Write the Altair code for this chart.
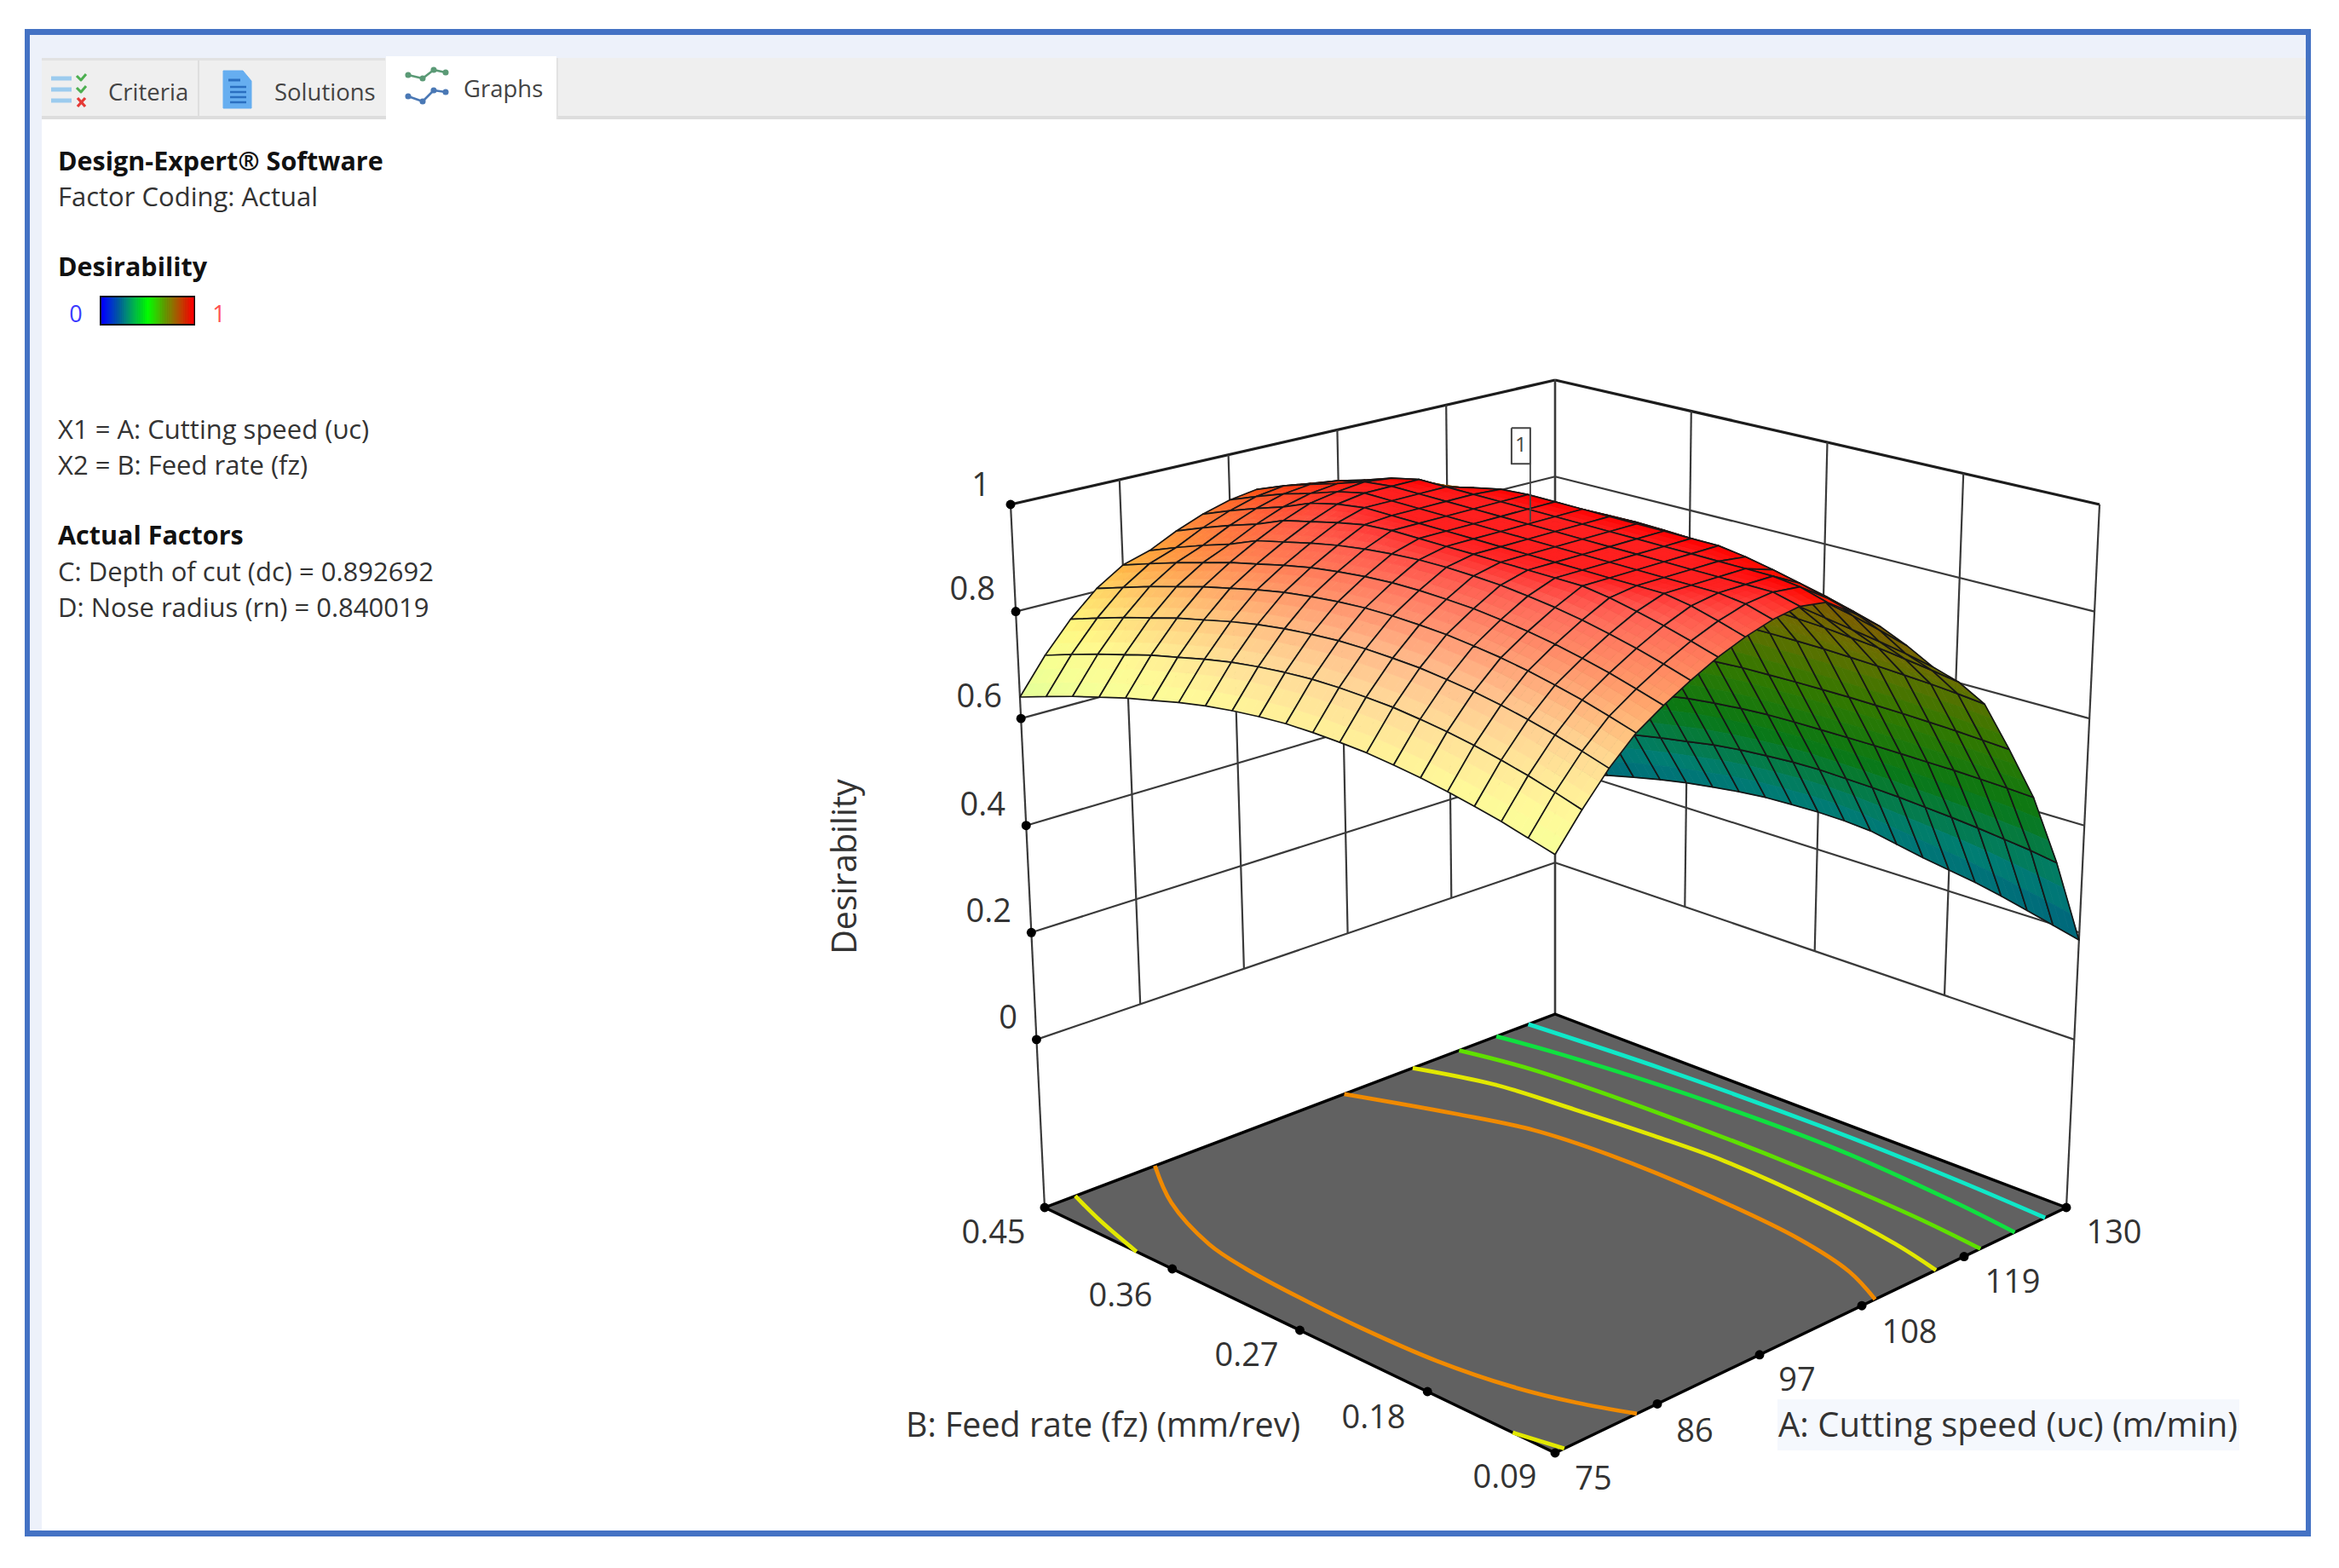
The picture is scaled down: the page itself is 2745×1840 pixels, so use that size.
import numpy as np
import pandas as pd
import altair as alt

alt.data_transformers.disable_max_rows()

# ---------- data ----------
A_VALUES = [75 + 2.75 * i for i in range(21)]
B_VALUES = [0.09 + 0.018 * j for j in range(21)]
# rows: A from 75 to 130, columns: B from 0.09 to 0.45
DESIRABILITY = [
 [.700,.712,.724,.734,.743,.751,.757,.762,.764,.765,.764,.760,.754,.746,.735,.722,.709,.693,.677,.659,.640],
 [.760,.774,.787,.798,.808,.816,.822,.827,.829,.830,.829,.825,.819,.811,.800,.787,.774,.758,.742,.724,.705],
 [.815,.829,.842,.853,.863,.871,.877,.882,.884,.885,.884,.880,.874,.866,.855,.842,.829,.813,.797,.779,.760],
 [.860,.874,.887,.898,.908,.916,.922,.927,.929,.930,.929,.925,.919,.911,.900,.887,.874,.858,.842,.824,.805],
 [.892,.906,.919,.930,.940,.948,.954,.959,.961,.962,.961,.957,.951,.943,.932,.919,.906,.890,.874,.856,.837],
 [.920,.934,.947,.958,.968,.976,.982,.987,.989,.990,.989,.985,.979,.971,.960,.947,.934,.912,.894,.874,.852],
 [.945,.959,.972,.983,.993,1,1,1,1,1,1,1,1,.996,.985,.972,.959,.937,.919,.899,.877],
 [.965,.979,.992,1,1,1,1,1,1,1,1,1,1,1,1,.992,.979,.957,.939,.919,.897],
 [.980,.994,1,1,1,1,1,1,1,1,1,1,1,1,1,1,.988,.970,.954,.934,.912],
 [.988,1,1,1,1,1,1,1,1,1,1,1,1,1,1,1,.994,.976,.960,.942,.920],
 [.980,.994,1,1,1,1,1,1,1,1,1,1,1,1,1,1,.988,.970,.954,.934,.912],
 [.945,.959,.972,.983,.993,1,1,1,1,1,1,1,1,.996,.985,.972,.959,.937,.919,.899,.877],
 [.905,.919,.932,.943,.953,.961,.967,.972,.974,.975,.974,.970,.964,.956,.945,.932,.919,.897,.879,.859,.837],
 [.855,.869,.882,.893,.903,.911,.917,.922,.924,.925,.924,.920,.914,.906,.895,.882,.869,.853,.837,.819,.800],
 [.800,.810,.819,.827,.835,.843,.849,.854,.856,.857,.856,.852,.846,.838,.827,.814,.801,.785,.769,.751,.732],
 [.755,.763,.770,.777,.782,.787,.790,.793,.794,.795,.794,.790,.785,.777,.766,.754,.742,.727,.711,.694,.676],
 [.698,.703,.707,.710,.713,.715,.717,.718,.718,.718,.717,.713,.708,.701,.691,.679,.668,.653,.639,.623,.605],
 [.597,.600,.603,.605,.607,.608,.609,.609,.609,.608,.607,.604,.599,.592,.582,.571,.560,.547,.533,.518,.502],
 [.490,.493,.495,.497,.498,.499,.500,.500,.500,.500,.499,.496,.491,.485,.476,.466,.455,.442,.430,.415,.400],
 [.350,.358,.364,.370,.375,.379,.383,.386,.388,.390,.389,.386,.382,.376,.367,.358,.348,.336,.324,.310,.296],
 [.186,.198,.210,.222,.232,.240,.248,.258,.268,.272,.273,.272,.270,.265,.258,.250,.240,.228,.215,.198,.180],
]
Z_TICKS = [0, 0.2, 0.4, 0.6, 0.8, 1]
A_TICKS = [75, 86, 97, 108, 119, 130]
B_TICKS = [0.09, 0.18, 0.27, 0.36, 0.45]
OPTIMUM = (100.3, 0.272, 1.0)

# contours on the floor: (fraction along A, fraction along B)
CONTOURS = [
 ("#f08a00", [(.216,1),(.148,.90),(.094,.772),(.078,.683),(.07,.5625),(.068,.45),(.074,.306),(.095,.178),(.1245,.0825),(.16,0)]),
 ("#f08a00", [(.587,1),(.652,.847),(.69,.733),(.705,.60),(.705,.41),(.69,.213),(.663,.087),(.626,0)]),
 ("#e2e800", [(.06,1),(.03,.92),(0,.82)]),
 ("#e2e800", [(.018,0),(0,.083)]),
 ("#e2e800", [(.721,1),(.762,.882),(.78,.741),(.793,.6),(.80,.47),(.789,.271),(.767,.102),(.745,0)]),
 ("#5fe000", [(.812,1),(.837,.881),(.852,.664),(.855,.376),(.846,.145),(.832,0)]),
 ("#10e040", [(.885,1),(.902,.9),(.925,.667),(.932,.378),(.915,.137),(.899,0)]),
 ("#10e8c8", [(.9475,1),(.965,.75),(.972,.45),(.968,.2),(.9585,0)]),
]

# ---------- view of the box (layout, not data) ----------
Z_FLOOR = -0.314
FLOOR = {(0,0):(1825,1705),(1,0):(2425,1417),(0,1):(1226,1417),(1,1):(1825,1190)}
TOP   = {(0,0):(1825,795),(1,0):(2464,592),(0,1):(1186,592),(1,1):(1825,446)}

def proj(a, b, z):
    t = (z - Z_FLOOR) / (1 - Z_FLOOR)
    def bil(C, k):
        return (C[(0,0)][k]*(1-a)*(1-b) + C[(1,0)][k]*a*(1-b) + C[(0,1)][k]*(1-a)*b + C[(1,1)][k]*a*b)
    return (bil(FLOOR,0)*(1-t)+bil(TOP,0)*t, bil(FLOOR,1)*(1-t)+bil(TOP,1)*t)

def interp_color(v, stops):
    xs = [s[0] for s in stops]
    return [np.interp(v, xs, [s[1][k] for s in stops]) for k in range(3)]

def hexc(rgb):
    return "#%02x%02x%02x" % tuple(int(round(max(0, min(255, c)))) for c in rgb)

TOP_STOPS = [(.6,(150,255,0)),(.7,(235,255,0)),(.75,(255,240,0)),(.8,(255,190,0)),(.9,(255,90,0)),(1,(255,0,0))]
UNDER_STOPS = [(.15,(0,90,130)),(.3,(0,125,115)),(.45,(10,120,20)),(.6,(50,120,0)),(.75,(105,110,0)),(.9,(125,90,0)),(1,(130,70,0))]

Z = np.array(DESIRABILITY, float)
aN = np.array(A_VALUES); aN = (aN - aN[0]) / (aN[-1] - aN[0])
bN = np.array(B_VALUES); bN = (bN - bN[0]) / (bN[-1] - bN[0])
ZA, ZB = np.gradient(Z, aN, bN)
LIT = np.clip(0.12 + 0.42*ZA + 0.15*ZB, 0, 0.6)

SUB = 3
rows = []
pid = 0
def add_poly(pts, fill, stroke, width):
    global pid
    for k, (x, y) in enumerate(pts + [pts[0]]):
        rows.append({"i": pid, "k": k, "x": round(x,1), "y": round(y,1), "f": fill, "s": stroke, "w": width})
    pid += 1

n, m = Z.shape
quads = sorted([(i, j) for i in range(n-1) for j in range(m-1)], key=lambda q: -(q[0]+q[1]))
for i, j in quads:
    a0, a1, b0, b1 = aN[i], aN[i+1], bN[j], bN[j+1]
    z00, z10, z01, z11 = Z[i,j], Z[i+1,j], Z[i,j+1], Z[i+1,j+1]
    l00, l10, l01, l11 = LIT[i,j], LIT[i+1,j], LIT[i,j+1], LIT[i+1,j+1]
    corners = [proj(a0,b0,z00), proj(a1,b0,z10), proj(a1,b1,z11), proj(a0,b1,z01)]
    area = 0.0
    for p in range(4):
        x1, y1 = corners[p]; x2, y2 = corners[(p+1)%4]
        area += x1*y2 - x2*y1
    under = area > 0
    for u in range(SUB):
        for v in range(SUB):
            pts = []
            for (uu, vv) in [(u,v),(u+1,v),(u+1,v+1),(u,v+1)]:
                s, t = uu/SUB, vv/SUB
                zz = z00*(1-s)*(1-t)+z10*s*(1-t)+z01*(1-s)*t+z11*s*t
                pts.append(proj(a0+(a1-a0)*s, b0+(b1-b0)*t, zz))
            s, t = (u+.5)/SUB, (v+.5)/SUB
            zz = z00*(1-s)*(1-t)+z10*s*(1-t)+z01*(1-s)*t+z11*s*t
            ll = l00*(1-s)*(1-t)+l10*s*(1-t)+l01*(1-s)*t+l11*s*t
            if under:
                c = hexc(interp_color(zz, UNDER_STOPS))
            else:
                base = np.array(interp_color(zz, TOP_STOPS))
                c = hexc(base + (255-base)*ll)
            add_poly(pts, c, c, 0.8)
    add_poly(corners, "transparent", "#161616", 1.7)
surface_df = pd.DataFrame(rows)

XS = alt.Scale(domain=[8, 2737], nice=False, zero=False)
YS = alt.Scale(domain=[1832, 8], nice=False, zero=False)
X = alt.X("x:Q", scale=XS, axis=None)
Y = alt.Y("y:Q", scale=YS, axis=None)

def poly_layer(df):
    return alt.Chart(df).mark_line(strokeJoin="round", clip=False).encode(
        x=X, y=Y, order="k:Q", detail="i:Q",
        fill=alt.Fill("f:N", scale=None, legend=None),
        stroke=alt.Stroke("s:N", scale=None, legend=None),
        strokeWidth=alt.StrokeWidth("w:Q", scale=None, legend=None))

def rect_layer(items):
    df = pd.DataFrame(items, columns=["x","x2","y","y2","c"])
    return alt.Chart(df).mark_rect(strokeWidth=0).encode(
        x=X, x2="x2:Q", y=Y, y2="y2:Q", fill=alt.Fill("c:N", scale=None, legend=None))

def lines_layer(segs, interpolate="linear"):
    r = []
    for idx, (pts, color, width) in enumerate(segs):
        for k, (x, y) in enumerate(pts):
            r.append({"i": idx, "k": k, "x": round(x,1), "y": round(y,1), "s": color, "w": width})
    return alt.Chart(pd.DataFrame(r)).mark_line(strokeCap="butt", strokeJoin="round", interpolate=interpolate).encode(
        x=X, y=Y, order="k:Q", detail="i:Q",
        stroke=alt.Stroke("s:N", scale=None, legend=None),
        strokeWidth=alt.StrokeWidth("w:Q", scale=None, legend=None))

FONT = "Open Sans"
DY = 4
def text_layer(items, size, color, weight="normal", align="left", angle=None):
    df = pd.DataFrame(items, columns=["t","x","y"])
    df["y"] = df["y"] + DY
    kw = {"angle": angle} if angle is not None else {}
    return alt.Chart(df).mark_text(font=FONT, fontSize=size, fontWeight=weight, color=color,
                                   align=align, baseline="middle", **kw).encode(x=X, y=Y, text="t:N")

# ---------- window chrome ----------
chrome = rect_layer([
    (35,2706,40,68,"#edf1fa"),
    (35,49,68,1796,"#edf1fa"),
    (49,2706,68,136,"#efefef"),
    (49,2706,136,140,"#dddddd"),
    (453,653,66,141,"#ffffff"),
    (232,234,70,138,"#dedede"),
    (49,452,68,71,"#e2e2e2"),
    (653,655,68,140,"#e2e2e2"),
    (29,2712,34,41,"#4472c4"),
    (29,2712,1796,1803,"#4472c4"),
    (29,35,34,1803,"#4472c4"),
    (2706,2712,34,1803,"#4472c4"),
    (2086,2628,1642,1702,"#f5f8fd"),
])

# ---------- box ----------
GRID = "#3a3a3a"
segs = []
for z in Z_TICKS:
    w = 3.2 if z == 1 else 2.2
    col = "#1c1c1c" if z == 1 else GRID
    segs.append(([proj(0,1,z), proj(1,1,z)], col, w))
    segs.append(([proj(1,1,z), proj(1,0,z)], col, w))
for v in A_TICKS[1:-1]:
    f = (v-75)/55
    segs.append(([proj(f,1,0), proj(f,1,1)], GRID, 2.2))
for v in B_TICKS[1:-1]:
    f = (v-.09)/.36
    segs.append(([proj(1,f,0), proj(1,f,1)], GRID, 2.2))
segs.append(([proj(0,1,Z_FLOOR), proj(0,1,1)], GRID, 2.2))
segs.append(([proj(1,1,Z_FLOOR), proj(1,1,1)], GRID, 2.6))
segs.append(([proj(1,0,Z_FLOOR), proj(1,0,1)], GRID, 2.2))
walls = lines_layer(segs)

pid = 0; rows = []
add_poly([proj(0,0,Z_FLOOR),proj(1,0,Z_FLOOR),proj(1,1,Z_FLOOR),proj(0,1,Z_FLOOR)], "#616161", "#000000", 3.4)
floor = poly_layer(pd.DataFrame(rows))

contours = lines_layer([([proj(a,b,Z_FLOOR) for a,b in pts], col, 4.8) for col, pts in CONTOURS], interpolate="catmull-rom")
surface = poly_layer(surface_df)

dots = [proj(0,1,z) for z in Z_TICKS]
dots += [proj((v-75)/55,0,Z_FLOOR) for v in A_TICKS]
dots += [proj(0,(v-.09)/.36,Z_FLOOR) for v in B_TICKS[1:]]
dot_layer = alt.Chart(pd.DataFrame(dots, columns=["x","y"])).mark_circle(size=120, color="#000000", opacity=1).encode(x=X, y=Y)

# ---------- optimum flag ----------
fa = (OPTIMUM[0]-75)/55; fb = (OPTIMUM[1]-.09)/.36
fx, fy = proj(fa, fb, OPTIMUM[2])
flag_line = lines_layer([([(fx, fy), (fx, fy-68)], "#444444", 1.8)])
pid = 0; rows = []
add_poly([(fx-22,fy-110),(fx,fy-110),(fx,fy-68),(fx-22,fy-68)], "#ffffff", "#444444", 2)
flag_box = poly_layer(pd.DataFrame(rows))
flag_text = text_layer([("1", fx-11, fy-93)], 24, "#444444", align="center")

# ---------- legend bar ----------
LEG = [(0,(0,0,255)),(.5,(0,255,0)),(1,(255,0,0))]
nb = 56
bar = [(119+108*q/nb, 119+108*(q+1)/nb+.5, 349, 380, hexc(interp_color(q/(nb-1), LEG))) for q in range(nb)]
bar_layer = rect_layer([(117,229,347,382,"#111111")] + bar)

# ---------- tab icons ----------
icons = lines_layer([
    ([(60,92),(84,92)],"#9ccbee",5),([(60,105),(84,105)],"#9ccbee",5),([(60,118),(84,118)],"#9ccbee",5),
    ([(90,89),(95,94),(101,87)],"#4caf50",3),([(90,103),(95,108),(101,101)],"#4caf50",3),
    ([(91,115),(100,125)],"#e53935",3.2),([(100,115),(91,125)],"#e53935",3.2),
    ([(479,88),(496,92),(509,82),(523,85)],"#5b9a76",2.6),
    ([(479,113),(496,119),(509,106),(523,108)],"#4a78b5",2.6),
    ([(268,94),(282,94)],"#2a6fc0",3),([(270,102),(289,102)],"#2a6fc0",2.5),([(270,108),(289,108)],"#2a6fc0",2.5),
    ([(270,114),(289,114)],"#2a6fc0",2.5),([(270,120),(289,120)],"#2a6fc0",2.5),
])
pid = 0; rows = []
add_poly([(262,83),(285,83),(295,95),(295,127),(262,127)], "#66aef0", "#66aef0", 1)
doc = poly_layer(pd.DataFrame(rows))
icon_pts = alt.Chart(pd.DataFrame(
    [(x,y,"#5b9a76") for x,y in [(479,88),(496,92),(509,82),(523,85)]] +
    [(x,y,"#4a78b5") for x,y in [(479,113),(496,119),(509,106),(523,108)]], columns=["x","y","c"])
).mark_circle(size=50, opacity=1).encode(x=X, y=Y, color=alt.Color("c:N", scale=None, legend=None))

# ---------- texts ----------
DARK = "#333333"
t_tabs = text_layer([("Criteria",127,106),("Solutions",322,106),("Graphs",544,102)], 27.5, "#444444")
t_bold = text_layer([("Design-Expert® Software",68,187),("Desirability",68,311),("Actual Factors",68,626)], 30.5, "#111111", weight="bold")
t_info = text_layer([("Factor Coding: Actual",68,229),("X1 = A: Cutting speed (υc)",68,502),("X2 = B: Feed rate (fz)",68,544),
                     ("C: Depth of cut (dc) = 0.892692",68,669),("D: Nose radius (rn) = 0.840019",68,711)], 31, DARK)
t_l0 = text_layer([("0",89,366)], 27, "#3a3aff", align="center")
t_l1 = text_layer([("1",257,366)], 27, "#ff5050", align="center")
t_z = text_layer([("1",1162,567),("0.8",1168,689),("0.6",1176,815),("0.4",1180,942),("0.2",1187,1067),("0",1194,1192)], 38, DARK, align="right")
t_ab = text_layer([("0.45",1166,1444),("0.36",1315,1518),("0.27",1463,1588),("0.18",1612,1661),("0.09",1766,1731),
                   ("75",1870,1733),("86",1989,1677),("97",2109,1617),("108",2241,1561),("119",2362,1502),("130",2481,1444)], 38, DARK, align="center")
t_title_b = text_layer([("B: Feed rate (fz) (mm/rev)",1063,1670)], 39.4, DARK)
t_title_a = text_layer([("A: Cutting speed (υc) (m/min)",2087,1670)], 40, DARK)
t_y = text_layer([("Desirability",993,1013)], 39.5, DARK, align="center", angle=270)

chart = alt.layer(
    chrome, walls, floor, contours, surface, dot_layer,
    flag_line, flag_box, flag_text, bar_layer, doc, icons, icon_pts,
    t_tabs, t_bold, t_info, t_l0, t_l1, t_z, t_ab, t_title_b, t_title_a, t_y
).properties(width=2729, height=1824, padding=0, autosize=alt.AutoSizeParams(type="none"), background="#ffffff"
).configure_view(stroke=None)

chart.save("out.html", embed_options={"renderer": "svg", "actions": False})
